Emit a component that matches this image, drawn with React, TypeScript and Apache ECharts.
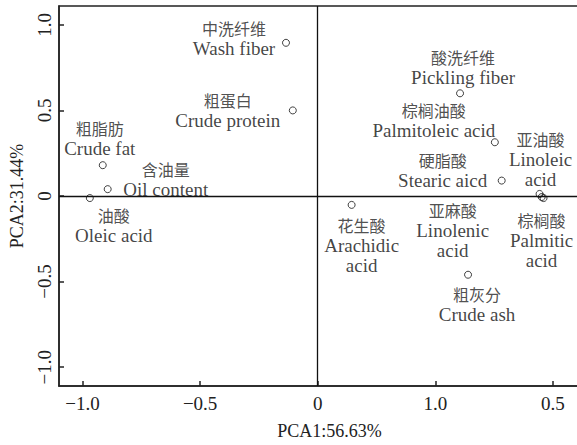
import React, { useEffect, useRef } from "react";
import * as echarts from "echarts";

// Loadings of each trait on the first two principal components
const namesCn = ["中洗纤维", "粗蛋白", "粗脂肪", "含油量", "油酸", "酸洗纤维", "棕榈油酸", "硬脂酸", "亚油酸", "亚麻酸", "棕榈酸", "花生酸", "粗灰分"];
const namesEn = ["Wash fiber", "Crude protein", "Crude fat", "Oil content", "Oleic acid", "Pickling fiber", "Palmitoleic acid", "Stearic aicd", "Linoleic\nacid", "Linolenic\nacid", "Palmitic\nacid", "Arachidic\nacid", "Crude ash"];
const pca1 = [-0.135, -0.106, -0.914, -0.893, -0.969, 0.605, 0.753, 0.782, 0.943, 0.952, 0.96, 0.144, 0.639];
const pca2 = [0.895, 0.5, 0.18, 0.04, -0.012, 0.6, 0.314, 0.09, 0.012, -0.006, -0.012, -0.052, -0.46];

// Tick positions and the labels printed under them
const tickValues = [-1, -0.5, 0, 0.5, 1];
const xTickLabels = ["−1.0", "−0.5", "0", "1.0", "0.5"];
const yTickLabels = ["−1.0", "−0.5", "0", "0.5", "1.0"];

// Label block offsets (px) from each point
const labelOffsets: [number, number][] = [
  [-52, -5], [-65, 0], [-3, -27], [58, -10], [24, 27], [3, -26], [-61, -22],
  [-59, -11], [1, -35], [-89, 33], [-2, 42], [10, 40], [9, 29],
];

const SERIF = "'Liberation Serif', 'DejaVu Serif', serif";
const CJK = "'Noto Sans CJK SC', sans-serif";

export default function App() {
  const ref = useRef<HTMLDivElement>(null);

  useEffect(() => {
    if (!ref.current) return;
    const chart = echarts.init(ref.current, undefined, { renderer: "svg" });

    const data = pca1.map((x, i) => ({
      value: [x, pca2[i]],
      label: {
        show: true,
        position: "inside",
        offset: labelOffsets[i],
        align: "center",
        verticalAlign: "middle",
        formatter: `{cn|${namesCn[i]}}\n` + namesEn[i].split("\n").map((s) => `{en|${s}}`).join("\n"),
      },
    }));

    const axisCommon = {
      type: "value",
      axisLine: { show: true, onZero: false, lineStyle: { color: "#222", width: 1.5 } },
      axisTick: { show: true, inside: true, length: 5, customValues: tickValues, lineStyle: { color: "#222", width: 1.5 } },
      splitLine: { show: false },
      nameTextStyle: { fontFamily: SERIF, fontSize: 18, color: "#222" },
    };

    chart.setOption({
      animation: false,
      grid: { left: 57, right: 20, top: 6, bottom: 57, show: true, borderColor: "#222", borderWidth: 1.5 },
      xAxis: {
        ...axisCommon,
        min: -1.1,
        max: 1.2,
        name: "PCA1:56.63%",
        nameLocation: "middle",
        nameGap: 36,
        axisLabel: {
          customValues: tickValues,
          margin: 8,
          fontFamily: SERIF,
          fontSize: 19,
          color: "#222",
          formatter: (v: number) => xTickLabels[tickValues.indexOf(v)] ?? "",
        },
      },
      yAxis: {
        ...axisCommon,
        min: -1.11,
        max: 1.11,
        name: "PCA2:31.44%",
        nameLocation: "middle",
        nameRotate: 90,
        nameGap: 33,
        axisLabel: {
          customValues: tickValues,
          rotate: 90,
          margin: 5,
          fontFamily: SERIF,
          fontSize: 19,
          color: "#222",
          formatter: (v: number) => yTickLabels[tickValues.indexOf(v)] ?? "",
        },
      },
      series: [
        {
          type: "scatter",
          symbol: "circle",
          symbolSize: 7,
          itemStyle: { color: "rgba(255,255,255,0)", borderColor: "#111", borderWidth: 1 },
          label: {
            color: "#111",
            rich: {
              cn: { fontFamily: CJK, fontSize: 16, lineHeight: 21, color: "#222" },
              en: { fontFamily: SERIF, fontSize: 19, lineHeight: 20, color: "#111" },
            },
          },
          data,
          markLine: {
            silent: true,
            symbol: ["none", "none"],
            label: { show: false },
            lineStyle: { color: "#111", width: 1.3, type: "solid" },
            data: [{ xAxis: 0 }, { yAxis: 0 }],
          },
        },
      ],
    });

    return () => chart.dispose();
  }, []);

  return (
    <div style={{ position: "fixed", left: 0, top: 0, width: 577, height: 445, overflow: "hidden", background: "#fff" }}>
      <div ref={ref} style={{ width: 620, height: 445 }} />
    </div>
  );
}
